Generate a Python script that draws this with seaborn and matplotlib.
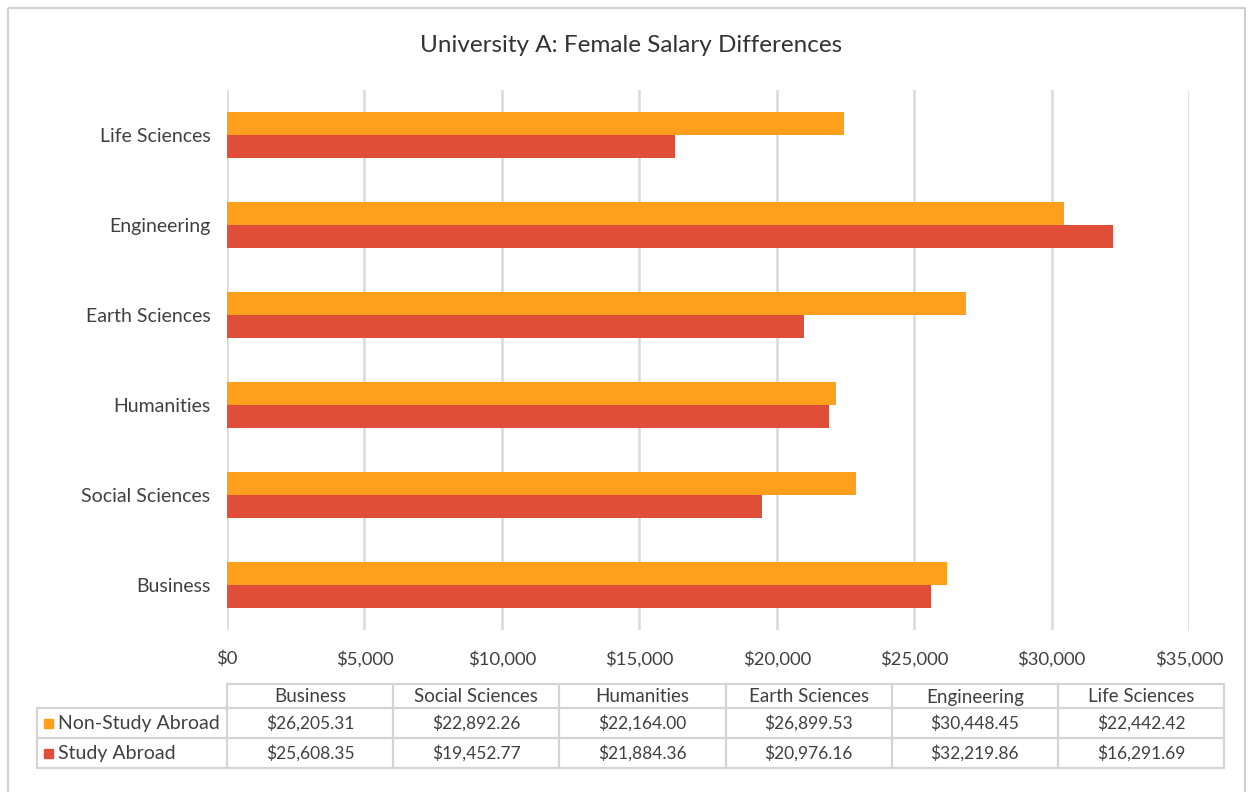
import pandas as pd
import matplotlib.pyplot as plt
import seaborn as sns
from matplotlib.patches import Rectangle

# data
categories = ['Business', 'Social Sciences', 'Humanities', 'Earth Sciences', 'Engineering', 'Life Sciences']
non_study = [26205.31, 22892.26, 22164.00, 26899.53, 30448.45, 22442.42]
study = [25608.35, 19452.77, 21884.36, 20976.16, 32219.86, 16291.69]
series = ['Non-Study Abroad', 'Study Abroad']
colors = ['#FF9F1C', '#E04E39']
xticks = [0, 5000, 10000, 15000, 20000, 25000, 30000, 35000]

df = pd.DataFrame({'Major': categories * 2,
                   'Group': [series[0]] * 6 + [series[1]] * 6,
                   'Salary': non_study + study})

sns.set_theme(style='white')
plt.rcParams['font.family'] = ['Lato', 'DejaVu Sans']
txt = '#404040'
grid = '#D9D9D9'

W, H = 1252, 792
fig = plt.figure(figsize=(W / 100, H / 100), dpi=100)

# plot area in pixels
L, R, T, B = 227, 1189, 90, 630
ax = fig.add_axes([L / W, 1 - B / H, (R - L) / W, (B - T) / H])

sns.barplot(data=df, y='Major', x='Salary', hue='Group', order=categories[::-1],
            hue_order=series, palette=colors, orient='h', width=0.51,
            saturation=1, linewidth=0, ax=ax, legend=False)

ax.set_xlim(0, 35000)
ax.set_xticks(xticks)
ax.set_xticklabels(['${:,}'.format(v) for v in xticks], fontsize=13.3, color=txt)
ax.tick_params(axis='y', labelsize=14, colors=txt, pad=12, length=0)
ax.tick_params(axis='x', pad=15, length=0)
ax.set_xlabel('')
ax.set_ylabel('')
ax.xaxis.grid(True, color=grid, linewidth=1.8)
ax.set_axisbelow(True)
for s in ax.spines.values():
    s.set_visible(False)

fig.text(631 / W, 1 - 45 / H, 'University A: Female Salary Differences',
         ha='center', va='center', fontsize=17.5, color='#333333')

# frame
ov = fig.add_axes([0, 0, 1, 1], zorder=-1)
ov.set_xlim(0, W)
ov.set_ylim(H, 0)
ov.axis('off')
ov.add_patch(Rectangle((8, 8), 1237, 800, fill=False, edgecolor='#D0D0D0', linewidth=1.5))

# data table
tab = fig.add_axes([0, 0, 1, 1])
tab.set_xlim(0, W)
tab.set_ylim(H, 0)
tab.axis('off')

tab_right = 1224
col_w = (tab_right - L) / len(categories)
lab_left = 37
rows_y = [684, 708, 738, 768]
line_kw = dict(color='#D4D4D4', linewidth=1.6)

tab.plot([L, tab_right], [rows_y[0], rows_y[0]], **line_kw)
for i, c in enumerate(categories):
    tab.text(L + col_w * (i + 0.5), (rows_y[0] + rows_y[1]) / 2 + 1, c,
             ha='center', va='center', fontsize=13.5, color=txt)
for y in rows_y[1:]:
    tab.plot([lab_left, tab_right], [y, y], **line_kw)
for i in range(len(categories) + 1):
    tab.plot([L + col_w * i] * 2, [rows_y[0], rows_y[3]], **line_kw)
tab.plot([lab_left] * 2, [rows_y[1], rows_y[3]], **line_kw)

for r, (name, vals, col) in enumerate(zip(series, [non_study, study], colors)):
    yc = (rows_y[r + 1] + rows_y[r + 2]) / 2
    tab.add_patch(Rectangle((44, yc - 4.5), 9, 9, color=col))
    tab.text(58, yc, name, ha='left', va='center', fontsize=14, color=txt)
    for i, v in enumerate(vals):
        tab.text(L + col_w * (i + 0.5), yc, '${:,.2f}'.format(v),
                 ha='center', va='center', fontsize=12.5, color=txt)

fig.savefig('out.png', dpi=100, facecolor='white')
